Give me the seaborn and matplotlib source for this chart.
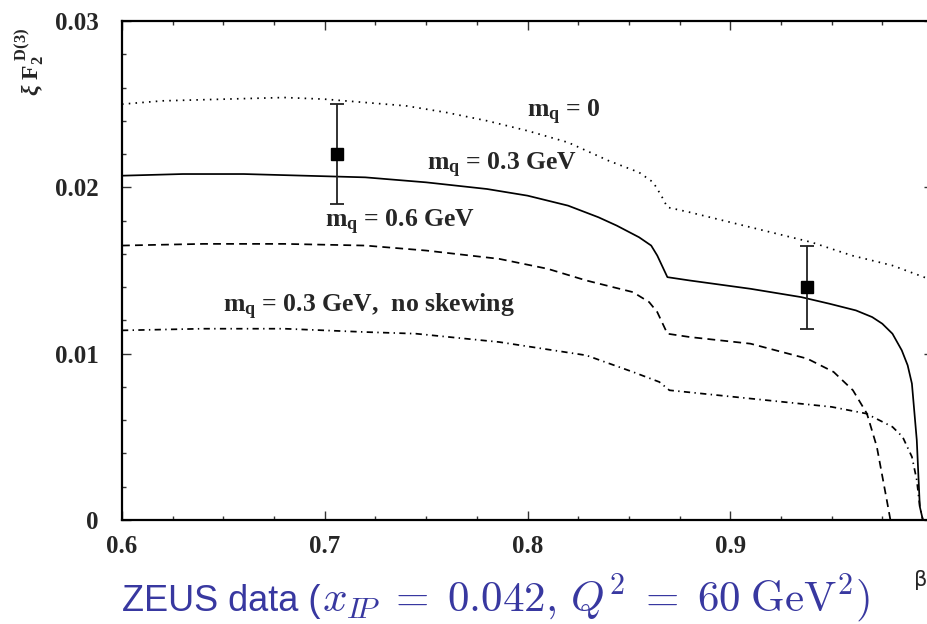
import matplotlib
matplotlib.use("Agg")
import matplotlib.pyplot as plt
import seaborn as sns
import numpy as np
from matplotlib.ticker import MultipleLocator, FixedLocator, FixedFormatter

# ---------------- data ----------------
beta_m0 = [0.60, 0.62, 0.65, 0.68, 0.70, 0.72, 0.74, 0.76, 0.78, 0.80, 0.82, 0.84,
           0.855, 0.862, 0.866, 0.869, 0.88, 0.90, 0.92, 0.94, 0.96, 0.98, 1.00]
f2_m0 = [0.0250, 0.0252, 0.0253, 0.0254, 0.0253, 0.0251, 0.0249, 0.0245, 0.0240, 0.0234,
         0.0227, 0.0216, 0.0209, 0.0203, 0.0195, 0.0188, 0.0185, 0.0179, 0.0173, 0.0167,
         0.0159, 0.0153, 0.0144]

beta_m03 = [0.60, 0.63, 0.66, 0.69, 0.72, 0.75, 0.78, 0.80, 0.82, 0.835, 0.844, 0.855,
            0.861, 0.864, 0.869, 0.88, 0.91, 0.935, 0.949, 0.962, 0.970, 0.975, 0.980,
            0.9846, 0.9875, 0.9896, 0.992, 0.9935, 0.995, 1.00]
f2_m03 = [0.0207, 0.0208, 0.0208, 0.0207, 0.0206, 0.0203, 0.0199, 0.0195, 0.0189, 0.0182,
          0.0177, 0.0170, 0.0165, 0.0159, 0.0146, 0.0144, 0.0139, 0.0134, 0.0130, 0.0126,
          0.0122, 0.0118, 0.0112, 0.0102, 0.0093, 0.0082, 0.0048, 0.0008, 0.0, 0.0]

beta_m06 = [0.60, 0.64, 0.68, 0.72, 0.75, 0.786, 0.81, 0.829, 0.852, 0.860, 0.864, 0.869,
            0.88, 0.91, 0.938, 0.951, 0.9605, 0.9674, 0.9723, 0.9772, 0.979, 0.995]
f2_m06 = [0.0165, 0.0166, 0.0166, 0.0165, 0.0162, 0.0157, 0.0151, 0.0144, 0.0137, 0.0131,
          0.0125, 0.0112, 0.0110, 0.0106, 0.0097, 0.0089, 0.0078, 0.0064, 0.0044, 0.0012,
          0.0, 0.0]

beta_noskew = [0.60, 0.64, 0.68, 0.72, 0.745, 0.786, 0.829, 0.852, 0.865, 0.870, 0.91,
               0.95, 0.967, 0.980, 0.985, 0.9896, 0.992, 0.9935, 0.995, 1.00]
f2_noskew = [0.0114, 0.0115, 0.0115, 0.0113, 0.0112, 0.0107, 0.0099, 0.0089, 0.0083,
             0.0078, 0.0073, 0.0068, 0.0064, 0.0056, 0.0050, 0.0038, 0.0024, 0.0008,
             0.0, 0.0]

data_beta = [0.706, 0.9378]
data_f2 = [0.0220, 0.0140]
data_err = [0.0030, 0.0025]

curve_labels = [r"$\mathbf{m_q}$ = 0", r"$\mathbf{m_q}$ = 0.3 GeV",
                r"$\mathbf{m_q}$ = 0.6 GeV", r"$\mathbf{m_q}$ = 0.3 GeV,  no skewing"]
label_pos = [(0.7997, 0.02423), (0.7504, 0.02104), (0.7001, 0.01762), (0.6498, 0.01251)]

xticks = [0.6, 0.7, 0.8, 0.9, 1.0]
xticklabels = ["0.6", "0.7", "0.8", "0.9", "1"]
yticks = [0.0, 0.01, 0.02, 0.03]
yticklabels = ["0", "0.01", "0.02", "0.03"]

# ---------------- style ----------------
sns.set_style("ticks")
plt.rcParams["font.family"] = ["Liberation Serif", "DejaVu Serif"]
plt.rcParams["font.weight"] = "bold"
plt.rcParams["mathtext.fontset"] = "custom"
plt.rcParams["mathtext.rm"] = "Liberation Serif"
plt.rcParams["mathtext.it"] = "Liberation Serif:italic"
plt.rcParams["mathtext.bf"] = "Liberation Serif:bold"

fig = plt.figure(figsize=(9.28, 6.24), dpi=100)
ax = fig.add_axes([122 / 928, 1 - 520 / 624, (933 - 122) / 928, (520 - 21) / 624])

lw = 1.25
sns.lineplot(x=beta_m0, y=f2_m0, ax=ax, color="black", lw=lw, linestyle=(0, (0.9, 3.0)))
sns.lineplot(x=beta_m03, y=f2_m03, ax=ax, color="black", lw=lw, linestyle="-")
sns.lineplot(x=beta_m06, y=f2_m06, ax=ax, color="black", lw=lw, linestyle=(0, (4.5, 3.0)))
sns.lineplot(x=beta_noskew, y=f2_noskew, ax=ax, color="black", lw=lw,
             linestyle=(0, (3.6, 2.5, 0.8, 2.5)))

ax.errorbar(data_beta, data_f2, yerr=data_err, fmt="s", color="black", ecolor="#222222",
            elinewidth=1.3, capsize=4.8, capthick=1.3, markersize=9, zorder=5)

for txt, (bx, by) in zip(curve_labels, label_pos):
    ax.text(bx, by, txt, fontsize=18.5, fontweight="bold", ha="left", va="baseline")

ax.set_xlim(0.6, 1.0)
ax.set_ylim(0.0, 0.03)
ax.xaxis.set_major_locator(FixedLocator(xticks))
ax.xaxis.set_major_formatter(FixedFormatter(xticklabels))
ax.yaxis.set_major_locator(FixedLocator(yticks))
ax.yaxis.set_major_formatter(FixedFormatter(yticklabels))
ax.xaxis.set_minor_locator(MultipleLocator(0.025))
ax.yaxis.set_minor_locator(MultipleLocator(0.002))
ax.tick_params(which="both", direction="in", top=True, right=True, width=1.0, color="#333333")
ax.tick_params(which="major", length=6.5, labelsize=18)
ax.tick_params(which="minor", length=3.2)
ax.tick_params(axis="x", which="major", pad=11)
ax.tick_params(axis="y", which="major", pad=17)
for lab in ax.get_xticklabels() + ax.get_yticklabels():
    lab.set_fontweight("bold")
for sp in ax.spines.values():
    sp.set_linewidth(1.6)
    sp.set_color("black")
ax.set_xlabel("")
ax.set_ylabel("")

# y-axis label
fig.text(30 / 928, 1 - 62 / 624, r"$\xi\ \mathbf{F}_{\mathbf{2}}^{\ \mathbf{D(3)}}$",
         rotation=90, fontsize=17, ha="center", va="center")

# beta label
fig.text(914 / 928, 1 - 580 / 624, "β", fontsize=15, family="DejaVu Sans",
         fontweight="normal", ha="left", va="center")

# bottom caption: sans part + larger Computer Modern math part
cap_color = "#3838a0"
base_y = 1 - 611 / 624
t1 = fig.text(122 / 928, base_y, "ZEUS data (", fontsize=26, family="Liberation Sans",
              fontweight="normal", color=cap_color, ha="left", va="baseline")
fig.canvas.draw()
bb = t1.get_window_extent(renderer=fig.canvas.get_renderer())
fig.text((bb.x1 + 2) / 928, base_y,
         r"$x_{I\!P}\;=\;0.042,\,Q^2\;=\;60\;\mathrm{GeV}^2)$",
         fontsize=31, fontweight="normal", color=cap_color, math_fontfamily="cm",
         ha="left", va="baseline")

fig.savefig("out.png", dpi=100)
